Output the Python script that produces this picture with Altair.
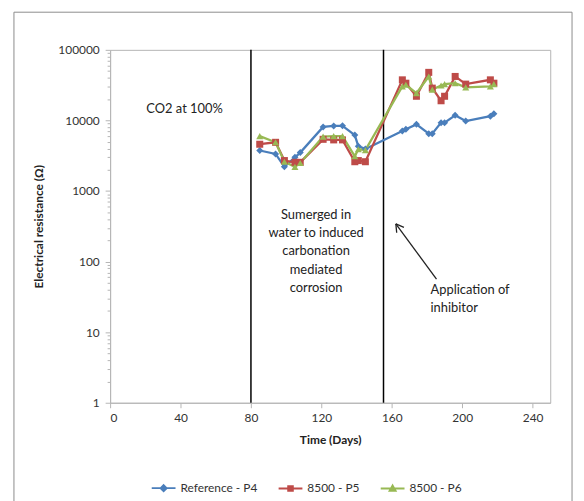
import altair as alt
import pandas as pd

# ---- data ----
days = [85, 94, 99, 105, 108, 121, 127, 132, 139, 141, 145,
        166, 168, 174, 181, 183, 188, 190, 196, 202, 216, 218]
ref_p4 = [3750, 3350, 2200, 3000, 3500, 8100, 8350, 8400, 6200, 4300, 3950,
          7100, 7500, 8800, 6500, 6500, 9300, 9300, 11800, 9800, 11500, 12400]
p5 = [4600, 4900, 2700, 2550, 2550, 5400, 5300, 5300, 2600, 2700, 2600,
      37600, 33700, 22000, 48000, 28700, 19000, 22000, 42000, 32700, 37600, 33700]
p6 = [6000, 4900, 2600, 2200, 2500, 5900, 6000, 6000, 3100, 3900, 3800,
      30300, 32000, 24400, 42000, 27300, 31300, 32700, 33700, 29400, 30300, 32700]

series_names = ["Reference - P4", "8500 - P5", "8500 - P6"]
series_colors = ["#4A7EBB", "#BE4B48", "#98B954"]
series_shapes = ["diamond", "square", "triangle-up"]
# legend symbols: a short line with the series marker on it
legend_shapes = ["M-1,0H1M0,-0.26L0.26,0L0,0.26L-0.26,0Z",
                 "M-1,0H1M-0.2,-0.2H0.2V0.2H-0.2Z",
                 "M-1,0H1M0,-0.26L0.26,0.2H-0.26Z"]

event_days = [80, 155.3]
x_ticks = [0, 40, 80, 120, 160, 200, 240]
y_major = [1, 10, 100, 1000, 10000, 100000]
y_all_ticks = [m * 10 ** k for k in range(5) for m in range(1, 10)] + [100000]

notes = ["CO2 at 100%",
         "Sumerged in\nwater to induced\ncarbonation\nmediated\ncorrosion",
         "Application of\ninhibitor"]
note_days = [42.3, 117.0, 182.0]
note_vals = [14500, 560, 48]
note_align = ["center", "center", "left"]

# arrow (tail -> head) and arrow-head arms, in data units
arrow_seg = [0, 0, 1, 1, 2, 2]
arrow_days = [185.4, 162.3, 162.3, 162.8, 162.3, 166.9]
arrow_vals = [56.4, 343, 343, 256, 343, 305]

FONT = "Lato"
GRAY = "#B5B5B5"

rows = []
for name, vals in zip(series_names, [ref_p4, p5, p6]):
    for d, v in zip(days, vals):
        rows.append({"series": name, "day": d, "value": v})
df = pd.DataFrame(rows)

xs = alt.Scale(domain=[0, 250], nice=False, zero=False)
ys = alt.Scale(type="log", domain=[1, 100000], nice=False)

x_axis = alt.Axis(values=x_ticks, title="Time (Days)", grid=False,
                  tickSize=5, labelPadding=5, titlePadding=11,
                  labelFontSize=12, titleFontSize=12, titleFontWeight="bold")
major_test = "indexof([1,10,100,1000,10000,100000], datum.value) >= 0"
y_axis = alt.Axis(values=y_all_ticks, title="Electrical resistance (Ω)", grid=False,
                  labelExpr="(" + major_test + ") ? format(datum.value, 'd') : ''",
                  labelOverlap=False, labelFlush=False,
                  tickSize={"condition": {"test": major_test, "value": 5}, "value": 3},
                  labelPadding=6, titlePadding=12,
                  labelFontSize=12, titleFontSize=12, titleFontWeight="bold")

X = alt.X("day:Q", scale=xs, axis=x_axis)
Y = alt.Y("value:Q", scale=ys, axis=y_axis)

color_scale = alt.Scale(domain=series_names, range=series_colors)

lines = alt.Chart(df).mark_line(strokeWidth=2.3).encode(
    x=X, y=Y,
    color=alt.Color("series:N", scale=color_scale, legend=None),
    order=alt.Order("day:Q"),
)
points = alt.Chart(df).mark_point(filled=True, size=50, opacity=1, strokeWidth=0).encode(
    x=X, y=Y,
    color=alt.Color("series:N", scale=color_scale, legend=None),
    shape=alt.Shape("series:N", scale=alt.Scale(domain=series_names, range=series_shapes),
                    legend=None),
)

legend = alt.Legend(orient="none", legendX=41, legendY=429, direction="horizontal",
                    columns=3, title=None, symbolSize=576, symbolStrokeWidth=1.8,
                    labelOffset=4, columnPadding=17, labelFontSize=12, labelFont=FONT,
                    labelColor="#333333", padding=0)
legend_layer = alt.Chart(df).transform_filter("datum.value < 0").mark_point(
    filled=True, opacity=1).encode(
    x=X, y=Y,
    fill=alt.Fill("series:N", scale=alt.Scale(domain=series_names, range=series_colors),
                  legend=legend),
    stroke=alt.Stroke("series:N", scale=alt.Scale(domain=series_names, range=series_colors),
                      legend=legend),
    shape=alt.Shape("series:N", scale=alt.Scale(domain=series_names, range=legend_shapes),
                    legend=legend),
)

rules = alt.Chart(pd.DataFrame({"day": event_days})).mark_rule(
    color="black", strokeWidth=1.5).encode(x=X)

note_df = pd.DataFrame({"day": note_days, "value": note_vals, "text": notes})
texts = []
for i in range(len(notes)):
    texts.append(
        alt.Chart(note_df.iloc[[i]]).mark_text(
            align=note_align[i], baseline="top" if i else "middle", lineBreak="\n",
            lineHeight=18.5, fontSize=13, font=FONT, color="#222222"
        ).encode(x=X, y=Y, text="text:N")
    )

arrow_df = pd.DataFrame({"seg": arrow_seg, "day": arrow_days, "value": arrow_vals})
arrow = alt.Chart(arrow_df).mark_line(color="#222222", strokeWidth=1.3).encode(
    x=X, y=Y, detail="seg:N")

border = alt.Chart(pd.DataFrame({"k": [0]})).mark_rect(
    fillOpacity=0, stroke="#8C8C8C", strokeWidth=1).encode(
    x=alt.value(-97), x2=alt.value(466), y=alt.value(-38), y2=alt.value(700))

chart = alt.layer(border, rules, lines, points, legend_layer, arrow, *texts).properties(
    width=444, height=356,
    autosize=alt.AutoSizeParams(type="none"),
    padding={"left": 103, "top": 40, "right": 26, "bottom": 110},
).configure_view(stroke=GRAY).configure_axis(
    domainColor=GRAY, tickColor=GRAY, labelColor="#333333", titleColor="#222222",
    labelFont=FONT, titleFont=FONT,
).resolve_scale(shape="independent", fill="independent", stroke="independent")

chart.save("out.html", embed_options={"renderer": "svg", "actions": False})
